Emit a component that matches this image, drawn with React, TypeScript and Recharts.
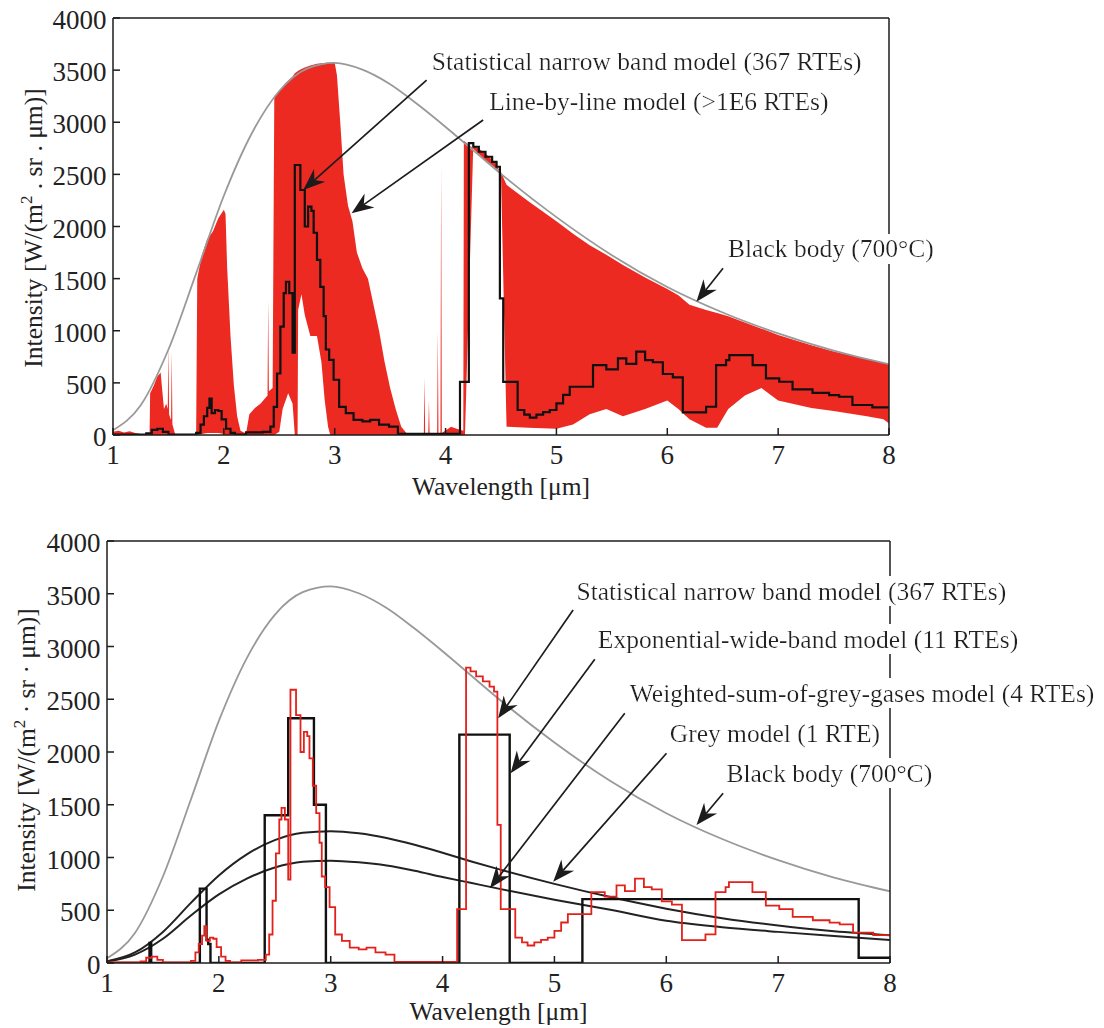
import React from "react";
import { ComposedChart, Line, Area, XAxis, YAxis, ReferenceLine, ReferenceDot } from "recharts";

const FONT = '"Liberation Serif", "Times New Roman", serif';
const INK = "#1c1c1c";
const RED = "#ec2a22";

const xTicks = [1, 2, 3, 4, 5, 6, 7, 8];
const yTicks = [0, 500, 1000, 1500, 2000, 2500, 3000, 3500, 4000];

// black body 700°C
const bbX = [1, 1.25, 1.5, 1.75, 2, 2.25, 2.5, 2.75, 3, 3.25, 3.5, 3.75, 4, 4.25, 4.5, 5, 5.5, 6, 6.5, 7, 7.5, 8];
const bbY = [45, 285, 820, 1550, 2295, 2890, 3300, 3515, 3570, 3505, 3365, 3170, 2955, 2730, 2505, 2090, 1725, 1420, 1175, 975, 810, 680];

// line-by-line spectrum, drawn as lower / upper envelope
const lblX = [1, 1.05, 1.1, 1.15, 1.2, 1.25, 1.33, 1.335, 1.37, 1.4, 1.43, 1.445, 1.46, 1.48, 1.494, 1.5, 1.506, 1.52, 1.524, 1.53, 1.536, 1.56,
  1.75, 1.76, 1.8, 1.85, 1.9, 1.95, 2, 2.015, 2.03, 2.06, 2.09, 2.12, 2.15, 2.2, 2.23, 2.28, 2.33, 2.394, 2.4, 2.406, 2.44,
  2.455, 2.5, 2.53, 2.58, 2.62, 2.64, 2.665, 2.67, 2.7, 2.73, 2.78, 2.84, 2.88, 2.91, 2.94, 2.96, 3, 3.02, 3.05, 3.08, 3.12,
  3.16, 3.2, 3.25, 3.3, 3.35, 3.4, 3.45, 3.5, 3.55, 3.6, 3.65, 3.804, 3.81, 3.816, 3.844, 3.85, 3.856, 3.924, 3.93, 3.936, 3.954, 3.96, 3.966,
  4.05, 4.1, 4.16, 4.165, 4.175, 4.25, 4.35, 4.45, 4.49, 4.5, 4.55, 4.75, 5, 5.15, 5.3, 5.45, 5.6, 5.8, 6, 6.1, 6.2, 6.35,
  6.45, 6.55, 6.7, 6.85, 7, 7.3, 7.5, 7.8, 7.95, 8];
const lblLo = [0, 0, 0, 0, 0, 0, 0, 0, 0, 0, 0, 0, 0, 0, 0, 0, 0, 0, 0, 0, 0, 0,
  0, 0, 10, 20, 20, 20, 10, 0, 0, 0, 0, 0, 0, 0, 0, 0, 0, 0, 0, 0, 0,
  0, 30, 250, 400, 300, 0, 0, 1200, 1350, 1150, 950, 950, 700, 330, 80, 0, 0, 0, 0, 0, 0,
  0, 0, 0, 0, 0, 0, 0, 0, 0, 0, 0, 0, 0, 0, 0, 0, 0, 0, 0, 0, 0, 0, 0, 0,
  0, 0, 0, 0, 2780, 2710, 2610, 2520, 2490, 80, 70, 60, 100, 200, 250, 180, 250, 330, 250, 150, 70, 70,
  250, 380, 450, 330, 260, 230, 180, 150, 110, 0];
const lblHi = [30, 40, 25, 35, 20, 10, 10, 400, 480, 560, 600, 420, 250, 300, 250, 850, 200, 150, 150, 800, 100, 10,
  10, 1500, 1720, 1880, 1950, 2080, 2160, 2120, 1600, 950, 480, 180, 40, 15, 200, 260, 300, 380, 1300, 420, 450,
  3250, 3300, 3340, 3400, 3440, 3470, 3490, 3495, 3510, 3525, 3545, 3560, 3565, 3568, 3570, 3570, 3570, 3450, 3000, 2500, 2200,
  2050, 1750, 1600, 1500, 1250, 1000, 700, 450, 250, 80, 15, 10, 550, 10, 10, 330, 10, 10, 1000, 10, 10, 2600, 20,
  80, 60, 40, 2820, 2815, 2745, 2645, 2560, 2530, 2520, 2400, 2240, 2050, 1930, 1820, 1730, 1630, 1510, 1400, 1340, 1250, 1200,
  1170, 1140, 1080, 1020, 960, 860, 800, 730, 690, 680];

// statistical narrow band model (367 RTEs), value holds until next x
const snbX = [1, 1.3, 1.35, 1.4, 1.45, 1.5, 1.75, 1.79, 1.82, 1.85, 1.87, 1.89, 1.92, 1.95, 1.98, 2.02, 2.06, 2.1, 2.2, 2.35,
  2.42, 2.45, 2.48, 2.51, 2.54, 2.56, 2.59, 2.62, 2.64, 2.69, 2.73, 2.76, 2.79, 2.81, 2.84, 2.87, 2.9, 2.92, 2.95, 2.99,
  3.04, 3.1, 3.17, 3.25, 3.32, 3.4, 3.49, 3.57, 4.13, 4.21, 4.25, 4.3, 4.36, 4.42, 4.46, 4.49, 4.52, 4.65, 4.71, 4.76,
  4.82, 4.88, 4.94, 5, 5.06, 5.12, 5.33, 5.45, 5.555, 5.63, 5.72, 5.8, 5.87, 5.96, 6.05, 6.14, 6.35, 6.44, 6.53, 6.56,
  6.77, 6.89, 7.01, 7.13, 7.31, 7.46, 7.55, 7.67, 7.85, 8];
const snbY = [5, 15, 50, 60, 30, 5, 20, 100, 180, 260, 350, 210, 240, 230, 150, 60, 20, 5, 25, 30,
  80, 270, 590, 1040, 1360, 1470, 1360, 790, 2590, 2350, 2000, 2190, 2150, 1940, 1680, 1420, 1140, 820, 720, 530,
  270, 210, 145, 130, 145, 100, 80, 10, 510, 2800, 2765, 2717, 2669, 2620, 2573, 1310, 510, 240, 195, 166,
  195, 220, 240, 304, 384, 463, 671, 630, 735, 682, 799, 719, 698, 585, 553, 217, 271, 671, 719, 767,
  671, 543, 511, 438, 405, 383, 367, 288, 265, 265];

// exponential wide band model (11 RTEs)
const ewbX = [1, 1.38, 1.395, 1.83, 1.89, 1.905, 1.925, 2.41, 2.62, 2.85, 2.957, 4.15, 4.6, 5.25, 7.72, 8];
const ewbY = [0, 190, 0, 705, 220, 180, 0, 1400, 2320, 1500, 0, 2165, 0, 605, 50, 50];

// grey model (1 RTE) and weighted-sum-of-grey-gases (4 RTEs)
const smoothX = [1, 1.25, 1.5, 1.75, 2, 2.25, 2.5, 2.75, 3, 3.25, 3.5, 3.75, 4, 4.25, 4.5, 5, 5.5, 6, 6.5, 7, 7.5, 8];
const greyY = [16, 100, 295, 570, 830, 1030, 1165, 1235, 1250, 1230, 1185, 1120, 1045, 965, 890, 750, 625, 515, 425, 355, 300, 262];
const wsggY = [14, 80, 230, 450, 650, 800, 905, 960, 970, 955, 925, 875, 815, 760, 705, 600, 505, 400, 340, 295, 255, 218];

const pts = (xs: number[], ys: number[]) => xs.map((x, i) => ({ x, y: ys[i] }));
const bbData = pts(bbX, bbY);
const snbData = pts(snbX, snbY);
const ewbData = pts(ewbX, ewbY);
const greyData = pts(smoothX, greyY);
const wsggData = pts(smoothX, wsggY);
const lblData = lblX.map((x, i) => ({ x, r: [lblLo[i], lblHi[i]] }));

const topNotes = [
  { x: 3.876, y: 3501, text: "Statistical narrow band model (367 RTEs)" },
  { x: 4.393, y: 3117, text: "Line-by-line model (>1E6 RTEs)" },
  { x: 6.548, y: 1707, text: "Black body (700°C)" },
];
const topArrows = [
  [{ x: 3.829, y: 3405 }, { x: 2.716, y: 2350 }],
  [{ x: 4.339, y: 3021 }, { x: 3.152, y: 2127 }],
  [{ x: 6.503, y: 1599 }, { x: 6.263, y: 1279 }],
];
const bottomNotes = [
  { x: 5.197, y: 3441, text: "Statistical narrow band model (367 RTEs)" },
  { x: 5.388, y: 2986, text: "Exponential-wide-band model (11 RTEs)" },
  { x: 5.674, y: 2474, text: "Weighted-sum-of-grey-gases model (4 RTEs)" },
  { x: 6.031, y: 2095, text: "Grey model (1 RTE)" },
  { x: 6.538, y: 1716, text: "Black body (700°C)" },
];
const bottomArrows = [
  [{ x: 5.167, y: 3346 }, { x: 4.497, y: 2319 }],
  [{ x: 5.361, y: 2879 }, { x: 4.608, y: 1798 }],
  [{ x: 5.629, y: 2367 }, { x: 4.423, y: 708 }],
  [{ x: 6.002, y: 1988 }, { x: 4.989, y: 771 }],
  [{ x: 6.508, y: 1609 }, { x: 6.27, y: 1308 }],
];

const txt = { fontFamily: FONT, fontSize: 25.5, fill: "#222" };
const tickTxt = { fontFamily: FONT, fontSize: 27, fill: "#222" };
const axisStroke = { stroke: INK, strokeWidth: 1.5 };

function Arrow(p: any) {
  const { x1, y1, x2, y2 } = p;
  const dx = x2 - x1, dy = y2 - y1;
  const len = Math.hypot(dx, dy) || 1;
  const ux = dx / len, uy = dy / len;
  const nx = -uy, ny = ux;
  const L = 22, W = 8.5, N = 7;
  const bx = x2 - ux * L, by = y2 - uy * L;
  const mx = x2 - ux * (L - N), my = y2 - uy * (L - N);
  const poly = `${x2},${y2} ${bx + nx * W},${by + ny * W} ${mx},${my} ${bx - nx * W},${by - ny * W}`;
  return (
    <g>
      <line x1={x1} y1={y1} x2={mx} y2={my} stroke={INK} strokeWidth={1.7} />
      <polygon points={poly} fill={INK} />
    </g>
  );
}

const yLabel = (dx: number, dc: number, sep: string) => (p: any) => {
  const vb = p.viewBox || { x: 0, y: 0, height: 0 };
  const cx = vb.x + dx;
  const cy = vb.y + vb.height / 2 + dc;
  return (
    <text transform={`translate(${cx},${cy}) rotate(-90)`} textAnchor="middle" style={txt}>
      Intensity [W/(m<tspan dy={-10} fontSize={17}>2</tspan>
      <tspan dy={10}>{` ${sep} sr ${sep} μm)]`}</tspan>
    </text>
  );
};

const xLabel = (dy: number) => (p: any) => {
  const vb = p.viewBox || { x: 0, y: 0, width: 0 };
  return (
    <text x={vb.x + vb.width / 2} y={vb.y + dy} textAnchor="middle" style={txt}>
      Wavelength [μm]
    </text>
  );
};

const xTick = (p: any) => (
  <text x={p.x} y={p.y + 18.5} textAnchor="middle" style={tickTxt}>{p.payload.value}</text>
);
const yTick = (p: any) => (
  <text x={p.x} y={p.y + 11} textAnchor="end" style={tickTxt}>{p.payload.value}</text>
);

function frame(leftW: number, ylab: any, xlab: any) {
  return [
    <XAxis key="xb" type="number" dataKey="x" domain={[1, 8]} ticks={xTicks} allowDataOverflow
      orientation="bottom" height={65} tickSize={-7} tickMargin={17.5} tick={xTick}
      axisLine={axisStroke} tickLine={axisStroke} label={xlab} />,
    <XAxis key="xt" xAxisId="top" type="number" dataKey="x" domain={[1, 8]} ticks={xTicks} allowDataOverflow
      orientation="top" height={1} tickSize={-7} tick={false} axisLine={axisStroke} tickLine={axisStroke} />,
    <YAxis key="yl" type="number" domain={[0, 4000]} ticks={yTicks} allowDataOverflow
      orientation="left" width={leftW} tickSize={-7} tickMargin={13.5} tick={yTick}
      axisLine={axisStroke} tickLine={axisStroke} label={ylab} />,
    <YAxis key="yr" yAxisId="right" type="number" domain={[0, 4000]} ticks={yTicks} allowDataOverflow
      orientation="right" width={1} tickSize={-7} tick={false} axisLine={axisStroke} tickLine={axisStroke} />,
    // keeps the top / right frame axes bound to data so they are drawn
    <Line key="bind" xAxisId="top" yAxisId="right" data={bbData} dataKey="y" stroke="none"
      dot={false} activeDot={false} isAnimationActive={false} legendType="none" />,
  ];
}

function notes(list: typeof topNotes, fid: string) {
  return list.map((n) => (
    <ReferenceDot key={n.text} x={n.x} y={n.y} r={0} ifOverflow="visible"
      shape={(p: any) => (
        <text x={p.cx} y={p.cy} filter={`url(#${fid})`} style={txt}>{n.text}</text>
      )} />
  ));
}

function arrows(list: typeof topArrows) {
  return list.map((s, i) => (
    <ReferenceLine key={"a" + i} segment={s} ifOverflow="visible" shape={(p: any) => <Arrow {...p} />} />
  ));
}

function bgFilter(id: string) {
  return (
    <defs>
      <filter id={id} x="0" y="0" width="1" height="1">
        <feFlood floodColor="#ffffff" />
        <feComposite in="SourceGraphic" operator="over" />
      </filter>
    </defs>
  );
}

function TopChart() {
  return (
    <ComposedChart width={1104} height={500} margin={{ top: 17, right: 214, bottom: 0, left: 0 }}>
      {bgFilter("bgTop")}
      {frame(113, yLabel(42, 1.5, "."), xLabel(60))}
      <Area data={lblData} dataKey="r" type="linear" stroke="none" fill={RED} fillOpacity={1}
        isAnimationActive={false} dot={false} activeDot={false} />
      <Line data={bbData} dataKey="y" type="monotone" stroke="#999999" strokeWidth={1.8}
        dot={false} activeDot={false} isAnimationActive={false} />
      <Line data={snbData} dataKey="y" type="stepAfter" stroke="#111111" strokeWidth={2.2}
        dot={false} activeDot={false} isAnimationActive={false} />
      {arrows(topArrows)}
      {notes(topNotes, "bgTop")}
    </ComposedChart>
  );
}

function BottomChart() {
  return (
    <ComposedChart width={1104} height={528} margin={{ top: 40, right: 213, bottom: 0, left: 0 }}>
      {bgFilter("bgBot")}
      {frame(107, yLabel(35, -2, "·"), xLabel(57))}
      <Line data={bbData} dataKey="y" type="monotone" stroke="#999999" strokeWidth={1.8}
        dot={false} activeDot={false} isAnimationActive={false} />
      <Line data={greyData} dataKey="y" type="monotone" stroke="#222222" strokeWidth={2}
        dot={false} activeDot={false} isAnimationActive={false} />
      <Line data={wsggData} dataKey="y" type="monotone" stroke="#222222" strokeWidth={2}
        dot={false} activeDot={false} isAnimationActive={false} />
      <Line data={ewbData} dataKey="y" type="stepAfter" stroke="#111111" strokeWidth={2.4}
        dot={false} activeDot={false} isAnimationActive={false} />
      <Line data={snbData} dataKey="y" type="stepAfter" stroke="#e3211b" strokeWidth={1.8}
        dot={false} activeDot={false} isAnimationActive={false} />
      {arrows(bottomArrows)}
      {notes(bottomNotes, "bgBot")}
    </ComposedChart>
  );
}

export default function App() {
  return (
    <div style={{ position: "absolute", left: 0, top: 0, width: 1104, height: 1028, background: "#fff" }}>
      <div style={{ position: "absolute", left: 0, top: 0 }}>
        <TopChart />
      </div>
      <div style={{ position: "absolute", left: 0, top: 500 }}>
        <BottomChart />
      </div>
    </div>
  );
}
